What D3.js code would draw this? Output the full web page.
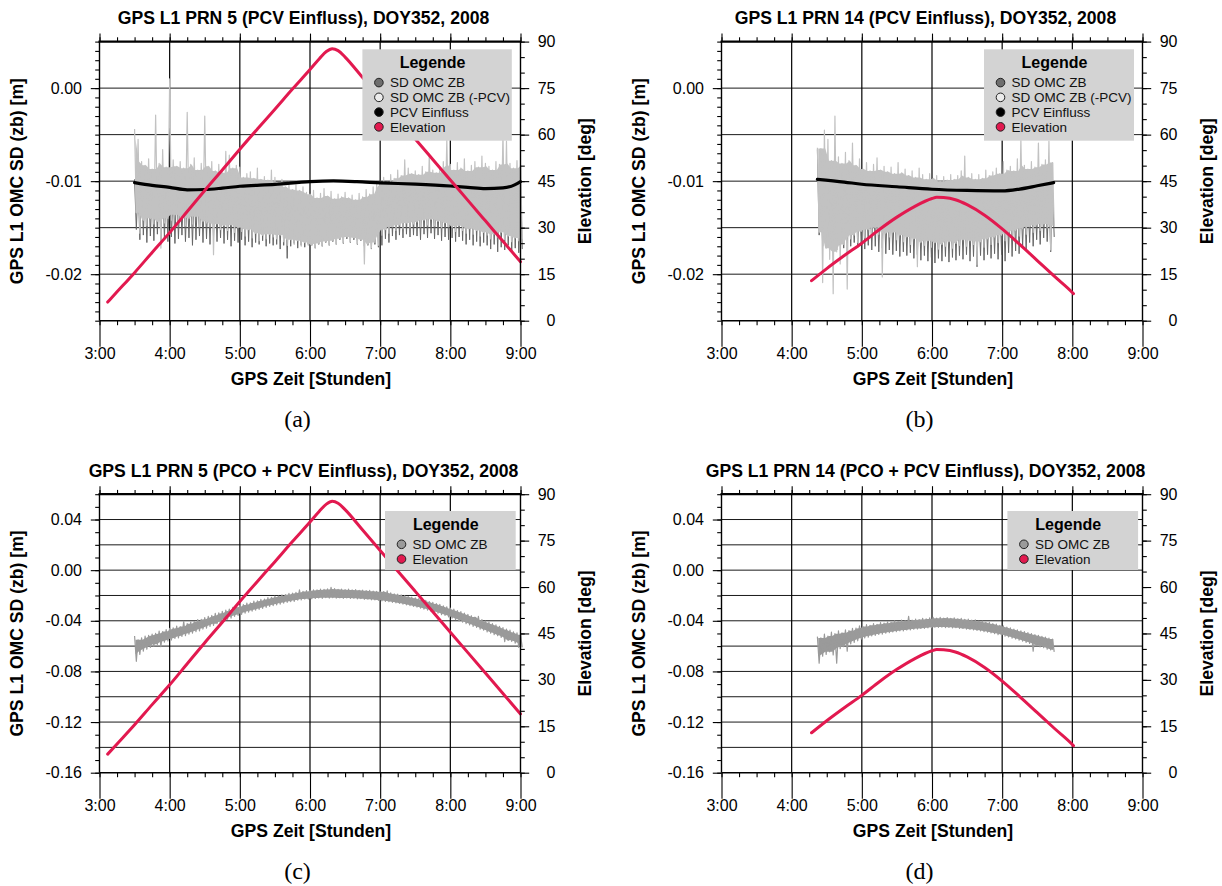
<!DOCTYPE html>
<html><head><meta charset="utf-8">
<script src="https://cdn.jsdelivr.net/npm/d3@7"></script>
<style>
html,body{margin:0;padding:0;background:#fff;}
svg{display:block;}
</style></head><body>
<svg id="chart" width="1222" height="886"></svg>
<script>
// ---------- axis tick labels ----------
const hourTicks = ["3:00","4:00","5:00","6:00","7:00","8:00","9:00"];
const elevTicks = [0,15,30,45,60,75,90];
const omcTicksPCV = [0.00,-0.01,-0.02];
const omcTicksPCO = [0.04,0.00,-0.04,-0.08,-0.12,-0.16];

// ---------- elevation (deg) ----------
const prn5ElevTime = ["3:07","3:15","3:30","3:45","4:00","4:15","4:30","4:45","5:00","5:15","5:30","5:45","6:00","6:08","6:14","6:19","6:24","6:30","6:45","7:00","7:15","7:30","7:45","8:00","8:15","8:30","8:45","9:00"];
const prn5Elev     = [6.0,9.3,15.5,22.0,28.4,35.2,42.0,48.6,55.3,61.8,68.2,74.7,81.0,84.5,86.8,87.7,87.1,85.0,78.4,71.8,65.2,58.6,52.0,45.4,38.8,32.2,25.6,19.0];
const prn14ElevTime = ["4:17","4:30","4:45","5:00","5:15","5:30","5:45","6:00","6:04","6:10","6:20","6:30","6:45","7:00","7:15","7:30","7:45","8:00","8:01"];
const prn14Elev     = [12.9,16.8,21.0,25.0,29.4,33.4,36.8,39.4,39.8,39.7,39.0,37.4,34.0,29.6,24.6,19.4,14.2,9.1,8.7];

// ---------- PCV influence (mm) ----------
const prn5PcvTime = ["3:30","3:45","4:00","4:15","4:30","4:45","5:00","5:30","6:00","6:20","6:40","7:00","7:30","8:00","8:15","8:30","8:45","8:55","9:00"];
const prn5Pcv     = [-10.16,-10.45,-10.66,-10.93,-10.90,-10.75,-10.55,-10.35,-10.05,-9.98,-10.05,-10.18,-10.32,-10.52,-10.66,-10.80,-10.72,-10.40,-10.05];
const prn14PcvTime = ["4:22","4:45","5:00","5:30","6:00","6:30","7:00","7:15","7:30","7:44"];
const prn14Pcv     = [-9.8,-10.1,-10.33,-10.6,-10.87,-11.0,-11.05,-10.85,-10.5,-10.16];

// ---------- noisy SD OMC series: envelopes every 3 min (mm) ----------
const sampleStep = 3;
const prn5Start = "3:30";
const prn14Start = "4:22";

// PRN 5, SD OMC ZB (-PCV)
const prn5NoPcvHi = [
 -4.4,-5.5,-7.9,-8.3,-7.6,-8.7,-2.9,-8.1,-6.6,-8.5,
 1.0,-7.7,-8.4,-7.9,-8.6,-2.6,-8.2,-7.5,-8.8,-8.1,
 -3.0,-8.4,-7.9,-8.9,-8.2,-9.1,-6.8,-7.2,-8.6,-8.3,
 -8.5,-9.6,-9.2,-9.0,-9.7,-8.6,-9.8,-9.5,-9.9,-8.8,
 -9.6,-10.2,-9.8,-10.6,-10.1,-10.9,-10.4,-11.0,-10.6,-11.2,
 -11.4,-11.0,-11.8,-11.3,-10.8,-11.6,-11.1,-11.9,-11.4,-11.7,
 -11.2,-11.8,-11.5,-12.0,-11.3,-11.7,-10.9,-11.4,-10.6,-10.2,
 -10.0,-9.6,-10.1,-9.3,-9.7,-8.8,-9.4,-7.7,-8.6,-9.2,
 -8.9,-9.3,-8.4,-9.0,-7.1,-8.8,-9.1,-8.5,-7.9,-5.5,
 -8.2,-8.8,-8.0,-8.6,-7.6,-8.9,-8.3,-7.9,-8.5,-7.3,
 -8.1,-8.4,-8.8,-7.9,-8.2,-4.8,-5.7,-8.1,-8.6,-7.8,
 -8.3];
const prn5NoPcvLo = [
 -13.4,-15.6,-14.2,-14.8,-14.0,-14.6,-14.3,-17.2,-14.5,-14.0,
 -14.2,-13.6,-14.5,-13.9,-14.8,-14.0,-14.6,-13.8,-14.9,-14.3,
 -14.5,-14.9,-17.9,-14.6,-15.2,-14.8,-15.3,-14.7,-15.5,-15.0,
 -15.4,-15.9,-15.2,-16.1,-15.6,-16.4,-15.8,-16.2,-15.7,-16.0,
 -16.2,-15.8,-16.5,-16.9,-16.3,-16.8,-16.4,-17.0,-16.6,-16.9,
 -16.9,-17.2,-16.7,-17.0,-16.5,-16.9,-16.4,-16.8,-16.2,-16.6,
 -16.0,-16.5,-16.1,-16.7,-16.3,-18.9,-16.8,-17.2,-16.6,-16.9,
 -15.8,-15.2,-15.6,-14.9,-15.3,-14.7,-15.1,-14.5,-15.0,-14.6,
 -14.4,-14.9,-14.2,-14.7,-14.1,-14.8,-14.3,-15.0,-14.5,-14.9,
 -15.0,-15.4,-14.8,-15.3,-15.6,-15.1,-15.7,-15.3,-15.9,-15.5,
 -15.8,-16.2,-15.7,-16.0,-15.5,-16.3,-15.9,-16.5,-16.1,-16.4,
 -16.2];
// PRN 5, SD OMC ZB
const prn5OmcHi = [
 -9.8,-10.2,-9.6,-10.4,-9.9,-10.6,-10.1,-10.3,-9.7,-10.5,
 -10.2,-10.8,-10.0,-10.6,-10.3,-10.9,-10.4,-10.1,-10.7,-10.5,
 -10.3,-10.9,-10.5,-11.0,-10.6,-10.8,-10.2,-10.7,-10.4,-10.9,
 -10.6,-11.1,-10.8,-11.3,-10.9,-11.2,-10.7,-11.4,-11.0,-11.2,
 -11.0,-11.5,-11.2,-11.7,-11.3,-11.8,-11.4,-11.9,-11.5,-12.0,
 -12.1,-11.8,-12.4,-12.0,-11.7,-12.3,-11.9,-12.5,-12.1,-12.4,
 -12.0,-12.5,-12.2,-12.7,-12.1,-12.4,-11.8,-12.2,-11.6,-11.3,
 -11.2,-10.8,-11.3,-10.7,-11.0,-10.4,-10.9,-10.5,-10.2,-10.7,
 -10.4,-10.8,-10.1,-10.6,-10.0,-10.5,-10.7,-10.2,-9.8,-10.3,
 -10.0,-10.4,-9.9,-10.3,-9.7,-10.5,-10.1,-9.8,-10.3,-10.0,
 -9.6,-10.2,-10.5,-9.9,-10.1,-9.5,-10.0,-9.8,-10.4,-9.7,
 -10.1];
const prn5OmcLo = [
 -15.2,-16.3,-15.8,-16.6,-15.9,-16.4,-15.7,-16.8,-16.1,-16.5,
 -16.0,-16.7,-16.2,-15.8,-16.5,-16.1,-16.9,-16.3,-15.9,-16.6,
 -16.2,-16.8,-16.0,-16.5,-16.1,-16.7,-16.3,-17.0,-16.4,-16.6,
 -16.3,-16.9,-16.5,-17.1,-16.6,-16.8,-16.4,-17.0,-16.7,-16.9,
 -16.8,-17.3,-16.9,-18.3,-17.0,-16.7,-17.2,-16.9,-17.1,-16.8,
 -16.9,-17.2,-16.8,-17.0,-16.6,-16.9,-16.5,-16.8,-16.3,-16.7,
 -16.2,-16.6,-16.3,-16.8,-16.4,-17.0,-16.9,-17.3,-16.8,-17.1,
 -16.9,-16.2,-16.6,-15.9,-16.3,-15.8,-16.1,-15.7,-16.0,-15.8,
 -15.9,-16.3,-15.7,-16.1,-15.6,-16.2,-15.8,-16.4,-16.0,-16.3,
 -16.1,-16.5,-16.0,-16.4,-16.8,-16.3,-16.9,-16.5,-17.0,-16.6,
 -16.9,-17.3,-16.8,-17.6,-17.1,-17.4,-16.9,-17.5,-17.2,-17.7,
 -17.3];

// PRN 14, SD OMC ZB (-PCV)
const prn14NoPcvHi = [
 -6.4,-6.5,-4.5,-5.5,-7.8,-3.0,-7.4,-8.1,-6.9,-7.8,
 -5.9,-8.3,-7.6,-8.7,-8.0,-8.9,-8.2,-7.5,-8.8,-8.4,
 -9.0,-8.5,-9.2,-8.0,-9.1,-8.7,-9.4,-8.9,-9.6,-8.6,
 -9.3,-9.8,-9.2,-9.7,-9.4,-10.0,-9.5,-9.9,-9.3,-9.8,
 -9.4,-8.9,-7.3,-9.6,-9.2,-9.8,-9.3,-9.7,-8.8,-9.4,
 -9.0,-8.6,-9.2,-7.9,-8.8,-8.4,-8.9,-7.6,-5.5,-8.3,
 -8.7,-7.9,-8.5,-5.9,-8.2,-7.7,-5.7,-8.0];
const prn14NoPcvLo = [
 -15.5,-20.9,-17.2,-18.4,-22.1,-17.6,-18.9,-16.8,-21.6,-16.2,
 -15.8,-16.6,-15.4,-16.1,-15.2,-15.9,-15.0,-15.7,-20.3,-15.6,
 -16.0,-15.5,-16.3,-15.8,-16.5,-16.0,-16.8,-16.2,-19.2,-16.6,
 -16.9,-16.4,-17.1,-16.6,-17.3,-16.8,-17.0,-16.5,-17.2,-16.7,
 -16.9,-16.3,-17.0,-16.4,-16.8,-19.0,-16.5,-17.1,-16.2,-16.8,
 -16.0,-16.6,-15.8,-16.4,-15.6,-16.1,-15.3,-15.9,-15.1,-15.7,
 -14.9,-15.5,-14.7,-15.3,-14.6,-15.0,-17.4,-14.8];
// PRN 14, SD OMC ZB
const prn14OmcHi = [
 -6.6,-10.8,-11.2,-10.6,-11.4,-10.9,-11.5,-11.0,-11.6,-11.1,
 -11.7,-11.2,-11.8,-11.3,-11.9,-11.4,-12.0,-11.5,-12.1,-11.6,
 -12.2,-11.7,-12.3,-11.8,-12.4,-11.9,-12.5,-12.0,-12.6,-12.1,
 -12.7,-12.2,-12.8,-12.3,-12.9,-12.4,-12.8,-12.3,-12.7,-12.2,
 -12.6,-12.1,-12.5,-12.0,-12.4,-11.9,-12.3,-11.8,-12.2,-11.7,
 -12.1,-11.6,-12.0,-11.5,-11.9,-11.4,-11.8,-11.3,-11.7,-11.2,
 -11.6,-11.1,-11.5,-11.0,-11.4,-10.9,-11.3,-10.8];
const prn14OmcLo = [
 -15.8,-17.0,-16.5,-17.1,-16.8,-17.4,-16.9,-17.2,-16.7,-17.0,
 -16.6,-17.1,-16.8,-17.3,-16.9,-17.4,-17.0,-17.6,-17.2,-17.8,
 -17.4,-17.9,-17.5,-18.1,-17.6,-18.0,-17.7,-18.3,-17.9,-18.5,
 -18.0,-18.6,-18.2,-18.8,-18.3,-18.6,-18.1,-18.7,-18.2,-18.5,
 -18.0,-18.4,-17.9,-18.6,-18.1,-19.2,-18.0,-18.5,-17.9,-18.3,
 -17.8,-18.4,-17.9,-18.6,-17.7,-18.1,-17.5,-17.8,-17.0,-17.4,
 -16.6,-17.0,-16.3,-16.8,-16.1,-16.5,-17.6,-16.0];

// PRN 5, SD OMC ZB with PCO + PCV
const prn5PcoHi = [
 -52.0,-55.0,-53.5,-52.0,-51.5,-50.5,-50.0,-48.2,-48.5,-46.9,
 -46.0,-45.6,-44.2,-44.5,-40.5,-42.3,-41.0,-40.6,-39.0,-38.8,
 -37.5,-36.4,-35.8,-34.2,-33.8,-32.5,-31.6,-30.8,-29.4,-28.9,
 -27.6,-27.3,-26.0,-25.8,-24.5,-24.2,-23.1,-22.8,-21.7,-21.4,
 -20.6,-20.5,-19.5,-19.3,-18.4,-18.1,-17.6,-15.6,-16.8,-16.2,
 -16.0,-15.5,-15.6,-15.0,-15.2,-14.8,-13.6,-14.6,-15.1,-14.9,
 -15.4,-15.0,-15.6,-15.3,-15.9,-15.7,-16.2,-16.0,-16.6,-16.7,
 -17.1,-17.0,-16.3,-18.0,-18.7,-19.0,-19.6,-20.2,-20.8,-21.3,
 -21.9,-22.4,-23.3,-23.8,-24.8,-25.4,-26.5,-27.0,-28.2,-28.9,
 -30.0,-30.8,-31.9,-32.8,-33.9,-34.9,-36.0,-37.0,-36.5,-39.1,
 -40.2,-41.1,-42.3,-43.2,-44.4,-45.3,-46.6,-47.4,-48.8,-49.6,
 -51.0];
const prn5PcoLo = [
 -72.0,-66.5,-64.0,-62.5,-61.0,-60.0,-58.6,-60.5,-56.8,-55.9,
 -55.2,-54.0,-53.5,-52.3,-51.8,-50.5,-49.8,-48.6,-47.9,-46.5,
 -45.8,-44.5,-43.6,-42.3,-43.5,-40.2,-38.8,-38.0,-36.6,-35.8,
 -35.0,-34.0,-33.2,-32.3,-31.6,-31.0,-30.2,-29.5,-28.6,-28.0,
 -27.4,-26.8,-26.0,-25.5,-24.8,-24.6,-23.7,-23.5,-22.8,-22.9,
 -22.6,-22.4,-22.0,-22.3,-21.8,-22.1,-21.7,-22.2,-21.9,-22.3,
 -22.0,-22.4,-22.2,-22.7,-22.5,-23.0,-22.9,-23.4,-23.5,-23.8,
 -24.2,-24.6,-24.9,-25.4,-25.9,-26.3,-26.9,-27.5,-28.1,-28.7,
 -29.3,-30.0,-30.7,-31.5,-32.3,-33.2,-34.0,-35.1,-35.8,-37.0,
 -37.9,-39.0,-40.0,-41.1,-42.2,-43.2,-44.4,-45.3,-46.6,-47.4,
 -48.8,-49.7,-51.0,-51.8,-53.2,-56.5,-55.4,-56.2,-57.6,-61.0,
 -61.0];
// PRN 14, SD OMC ZB with PCO + PCV
const prn14PcoHi = [
 -52.5,-53.5,-50.5,-52.0,-49.0,-50.2,-48.0,-49.5,-47.2,-47.8,
 -46.0,-45.7,-44.0,-44.6,-43.1,-43.6,-42.2,-42.8,-41.5,-41.9,
 -40.8,-41.2,-40.1,-40.6,-39.5,-39.9,-36.5,-39.4,-38.6,-39.0,
 -38.1,-38.5,-37.6,-37.3,-37.9,-37.2,-37.8,-37.4,-38.0,-37.7,
 -38.4,-38.1,-38.9,-38.6,-39.5,-39.3,-40.3,-40.2,-41.2,-41.3,
 -42.3,-42.6,-43.6,-44.0,-45.0,-45.5,-46.5,-47.1,-48.0,-48.6,
 -49.4,-50.1,-50.9,-51.5,-52.3,-52.9,-53.6,-54.4];
const prn14PcoLo = [
 -73.5,-68.0,-66.5,-64.5,-67.0,-73.5,-62.0,-60.5,-64.0,-58.2,
 -57.0,-55.8,-54.6,-53.5,-52.9,-52.0,-51.6,-50.8,-50.5,-49.7,
 -49.4,-48.8,-48.6,-48.0,-47.9,-47.3,-47.2,-46.7,-46.5,-46.1,
 -46.0,-45.6,-45.5,-45.1,-45.3,-45.0,-45.4,-45.2,-45.7,-45.5,
 -46.1,-46.0,-46.6,-46.7,-47.2,-47.5,-48.0,-48.5,-49.0,-49.6,
 -50.1,-50.9,-51.3,-52.2,-52.8,-53.7,-54.4,-55.3,-56.1,-57.0,
 -57.8,-64.0,-59.4,-60.6,-61.2,-62.5,-63.0,-64.5];

// ---------- legends ----------
const legendPCV = ["SD OMC ZB","SD OMC ZB (-PCV)","PCV Einfluss","Elevation"];
const legendPCVColors = ["#6e6e6e","#ececec","#000000","#e2194f"];
const legendPCO = ["SD OMC ZB","Elevation"];
const legendPCOColors = ["#9a9a9a","#e2194f"];

// ---------- rendering ----------
const FONT = "'Liberation Sans', Arial, Helvetica, sans-serif";
const RED = "#e2194f";
const W = 421;
function hm(s){const p=s.split(":").map(Number);return p[0]+p[1]/60;}

const panels = [
 {x0:99.5, y0:41.6, H:279.1, title:"GPS L1 PRN 5 (PCV Einfluss), DOY352, 2008", caption:"(a)",
  dom:[-0.025,0.005], ticks:omcTicksPCV, minor:0.001, grid:0.005,
  bands:[{start:prn5Start,hi:prn5OmcHi,lo:prn5OmcLo,color:"#666666",fill:false},{start:prn5Start,hi:prn5NoPcvHi,lo:prn5NoPcvLo,color:"#c2c2c2",fill:true}],
  pcv:{t:prn5PcvTime,v:prn5Pcv}, elev:{t:prn5ElevTime,v:prn5Elev},
  leg:legendPCV, legC:legendPCVColors, lw:149.4, lh:91.4, lr:8.7, lt:7.7},
 {x0:721.5, y0:41.6, H:279.1, title:"GPS L1 PRN 14 (PCV Einfluss), DOY352, 2008", caption:"(b)",
  dom:[-0.025,0.005], ticks:omcTicksPCV, minor:0.001, grid:0.005,
  bands:[{start:prn14Start,hi:prn14OmcHi,lo:prn14OmcLo,color:"#666666",fill:false},{start:prn14Start,hi:prn14NoPcvHi,lo:prn14NoPcvLo,color:"#c2c2c2",fill:true}],
  pcv:{t:prn14PcvTime,v:prn14Pcv}, elev:{t:prn14ElevTime,v:prn14Elev},
  leg:legendPCV, legC:legendPCVColors, lw:150, lh:91.4, lr:8.5, lt:7.7},
 {x0:99.5, y0:494.2, H:278.5, title:"GPS L1 PRN 5 (PCO + PCV Einfluss), DOY352, 2008", caption:"(c)",
  dom:[-0.16,0.06], ticks:omcTicksPCO, minor:0.01, grid:0.02,
  bands:[{start:prn5Start,hi:prn5PcoHi,lo:prn5PcoLo,color:"#9a9a9a",fill:true}],
  pcv:null, elev:{t:prn5ElevTime,v:prn5Elev},
  leg:legendPCO, legC:legendPCOColors, lw:130.7, lh:59, lr:4.8, lt:16.8},
 {x0:721.5, y0:494.2, H:278.5, title:"GPS L1 PRN 14 (PCO + PCV Einfluss), DOY352, 2008", caption:"(d)",
  dom:[-0.16,0.06], ticks:omcTicksPCO, minor:0.01, grid:0.02,
  bands:[{start:prn14Start,hi:prn14PcoHi,lo:prn14PcoLo,color:"#9a9a9a",fill:true}],
  pcv:null, elev:{t:prn14ElevTime,v:prn14Elev},
  leg:legendPCO, legC:legendPCOColors, lw:130.7, lh:59, lr:4.4, lt:16.8}
];

const svg = d3.select("#chart");

function styleAxis(sel){
  sel.select(".domain").remove();
  sel.attr("font-family",FONT).attr("font-size",16);
  sel.selectAll("line").attr("stroke","#000").attr("stroke-width",1.1);
  sel.selectAll("text").attr("fill","#000");
}

panels.forEach(p=>{
  const g = svg.append("g");
  const x1 = p.x0+W, yb = p.y0+p.H;
  const x = d3.scaleLinear().domain([3,9]).range([p.x0,x1]);
  const yL = d3.scaleLinear().domain(p.dom).range([yb,p.y0]);
  const yR = d3.scaleLinear().domain([0,90]).range([yb,p.y0]);

  // grid
  const hours = hourTicks.map(hm);
  const gridV = d3.range(Math.round(p.dom[0]/p.grid)+1, Math.round(p.dom[1]/p.grid)).map(k=>k*p.grid);
  g.append("g").selectAll("line").data(gridV).join("line")
    .attr("x1",p.x0).attr("x2",x1).attr("y1",d=>yL(d)).attr("y2",d=>yL(d))
    .attr("stroke","#1a1a1a").attr("stroke-width",1);
  g.append("g").selectAll("line").data(hours.filter(h=>h>3&&h<9)).join("line")
    .attr("x1",d=>x(d)).attr("x2",d=>x(d)).attr("y1",p.y0).attr("y2",yb)
    .attr("stroke","#000").attr("stroke-width",1.2);

  // noisy bands: filled core (isolated spikes excluded) + zigzag through envelope samples
  const zig = d3.line().x(d=>x(d[0])).y(d=>yL(d[1]/1000));
  const core = d3.area().x(d=>x(d.t)).y0(d=>yL(d.lo/1000)).y1(d=>yL(d.hi/1000));
  p.bands.forEach(b=>{
    const t0 = hm(b.start), n = Math.min(b.hi.length,b.lo.length);
    const pts = [], cpts = [];
    for(let i=0;i<n;i++){
      const t = t0+i*sampleStep/60;
      pts.push([t, b.hi[i]]);
      pts.push([t+0.5*sampleStep/60, b.lo[i]]);
      const a = Math.max(0,i-1), c = Math.min(n-1,i+1);
      cpts.push({t:t+0.25*sampleStep/60,
        hi:Math.min(b.hi[a],b.hi[i],b.hi[c]),
        lo:Math.max(b.lo[a],b.lo[i],b.lo[c])});
    }
    if(b.fill) g.append("path").attr("d",core(cpts)).attr("fill",b.color).attr("stroke","none");
    g.append("path").attr("d",zig(pts)).attr("fill","none")
      .attr("stroke",b.color).attr("stroke-width",b.fill?1.2:1.0).attr("stroke-linejoin","round");
  });

  // PCV influence
  if(p.pcv){
    const pl = d3.line().x(d=>x(hm(d[0]))).y(d=>yL(d[1]/1000)).curve(d3.curveMonotoneX);
    g.append("path").attr("d",pl(d3.zip(p.pcv.t,p.pcv.v))).attr("fill","none")
      .attr("stroke","#000").attr("stroke-width",3.2).attr("stroke-linecap","round");
  }
  // elevation
  const el = d3.line().x(d=>x(hm(d[0]))).y(d=>yR(d[1])).curve(d3.curveMonotoneX);
  g.append("path").attr("d",el(d3.zip(p.elev.t,p.elev.v))).attr("fill","none")
    .attr("stroke",RED).attr("stroke-width",3).attr("stroke-linecap","round").attr("stroke-linejoin","round");

  // legend
  const lx = x1-p.lr-p.lw, ly = p.y0+p.lt;
  const lg = g.append("g");
  lg.append("rect").attr("x",lx).attr("y",ly).attr("width",p.lw).attr("height",p.lh).attr("fill","#d3d3d3");
  lg.append("text").attr("x",lx+p.lw/2-4.5).attr("y",ly+19).attr("text-anchor","middle")
    .attr("font-family",FONT).attr("font-weight","bold").attr("font-size",16).text("Legende");
  p.leg.forEach((name,i)=>{
    const cy = ly+33.3+i*14.75;
    lg.append("circle").attr("cx",lx+16.5).attr("cy",cy).attr("r",4.3)
      .attr("fill",p.legC[i]).attr("stroke","#222").attr("stroke-width",1);
    lg.append("text").attr("x",lx+27.5).attr("y",cy+4.8).attr("font-family",FONT)
      .attr("font-size",13.5).attr("fill","#111").text(name);
  });

  // axes
  const quarter = d3.range(0,25).map(k=>3+k*0.25);
  g.append("g").attr("transform",`translate(0,${yb})`)
    .call(d3.axisBottom(x).tickValues(quarter).tickSize(4.5).tickFormat("")).call(styleAxis);
  g.append("g").attr("transform",`translate(0,${yb})`)
    .call(d3.axisBottom(x).tickValues(hours).tickSize(26).tickPadding(1).tickFormat((d,i)=>hourTicks[i])).call(styleAxis);
  g.append("g").attr("transform",`translate(0,${p.y0})`)
    .call(d3.axisTop(x).tickValues(quarter).tickSize(4.3).tickFormat("")).call(styleAxis);
  g.append("g").attr("transform",`translate(0,${p.y0})`)
    .call(d3.axisTop(x).tickValues(hours).tickSize(8).tickFormat("")).call(styleAxis);

  const minorL = d3.range(Math.round(p.dom[0]/p.minor), Math.round(p.dom[1]/p.minor)+1).map(k=>k*p.minor);
  g.append("g").attr("transform",`translate(${p.x0},0)`)
    .call(d3.axisLeft(yL).tickValues(minorL).tickSize(4.3).tickFormat("")).call(styleAxis);
  g.append("g").attr("transform",`translate(${p.x0},0)`)
    .call(d3.axisLeft(yL).tickValues(p.ticks).tickSize(8.7).tickPadding(8.8).tickFormat(d=>(Math.abs(d)<1e-9?0:d).toFixed(2))).call(styleAxis);

  g.append("g").attr("transform",`translate(${x1},0)`)
    .call(d3.axisRight(yR).tickValues(d3.range(0,19).map(k=>k*5)).tickSize(4.3).tickFormat("")).call(styleAxis);
  const ra = g.append("g").attr("transform",`translate(${x1},0)`)
    .call(d3.axisRight(yR).tickValues(elevTicks).tickSize(8.7).tickFormat(d=>String(d))).call(styleAxis);
  ra.selectAll("text").attr("text-anchor","end").attr("x",35);

  // frame
  const fr = g.append("g").attr("stroke","#000");
  fr.append("line").attr("x1",p.x0-1).attr("x2",x1+1).attr("y1",p.y0).attr("y2",p.y0).attr("stroke-width",2.2);
  fr.append("line").attr("x1",p.x0).attr("x2",x1).attr("y1",yb).attr("y2",yb).attr("stroke-width",1.4);
  fr.append("line").attr("x1",p.x0).attr("x2",p.x0).attr("y1",p.y0).attr("y2",yb).attr("stroke-width",1.4);
  fr.append("line").attr("x1",x1).attr("x2",x1).attr("y1",p.y0).attr("y2",yb).attr("stroke-width",1.4);

  // texts
  g.append("text").attr("x",p.x0+204).attr("y",p.y0-17.5).attr("text-anchor","middle")
    .attr("font-family",FONT).attr("font-weight","bold").attr("font-size",17.6).text(p.title);
  g.append("text").attr("x",p.x0+W/2+1).attr("y",yb+64).attr("text-anchor","middle")
    .attr("font-family",FONT).attr("font-weight","bold").attr("font-size",17.6).text("GPS Zeit [Stunden]");
  g.append("text").attr("transform",`translate(${p.x0-76.5},${p.y0+p.H/2}) rotate(-90)`).attr("text-anchor","middle")
    .attr("font-family",FONT).attr("font-weight","bold").attr("font-size",17.6).text("GPS L1 OMC SD (zb) [m]");
  g.append("text").attr("transform",`translate(${x1+70.5},${p.y0+p.H/2}) rotate(-90)`).attr("text-anchor","middle")
    .attr("font-family",FONT).attr("font-weight","bold").attr("font-size",17.6).text("Elevation [deg]");
  g.append("text").attr("x",p.x0+198).attr("y",yb+106).attr("text-anchor","middle")
    .attr("font-family","'Liberation Serif','DejaVu Serif',serif").attr("font-size",24).text(p.caption);
});
</script>
</body></html>
